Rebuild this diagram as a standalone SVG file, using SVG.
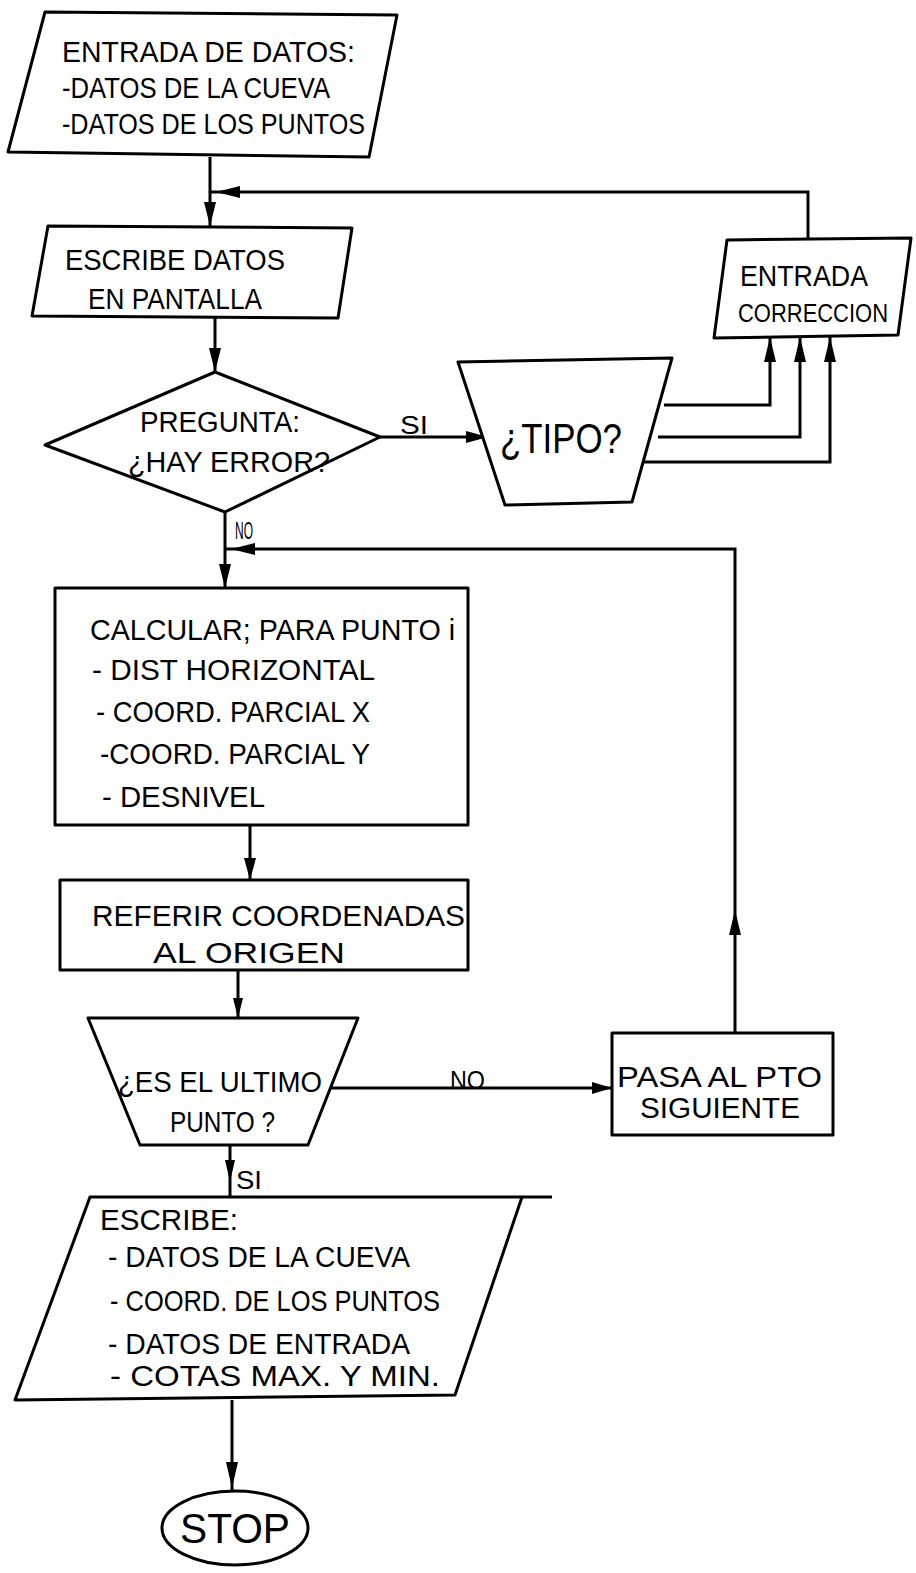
<svg xmlns="http://www.w3.org/2000/svg" width="916" height="1573" viewBox="0 0 916 1573">
<style>
.s{fill:#fff;stroke:#000;stroke-width:3;stroke-linejoin:round}
.c{fill:none;stroke:#000;stroke-width:3}
.t{font-family:"Liberation Sans",Arial,sans-serif;font-size:30px;fill:#000}
.ah{fill:#000}
</style>
<g id="connectors">
<path class="c" d="M210,157 V226"/>
<path class="ah" d="M204,202 L216,202 L210,226 Z"/>
<path class="c" d="M808,240 V192 H210"/>
<path class="ah" d="M240,186 L240,198 L216,192 Z"/>
<path class="c" d="M215,318 V372"/>
<path class="ah" d="M209,348 L221,348 L215,372 Z"/>
<path class="c" d="M380,437 H488"/>
<path class="ah" d="M466,431 L466,443 L488,437 Z"/>
<path class="c" d="M664,405 H770 V337"/>
<path class="c" d="M658,437 H800 V337"/>
<path class="c" d="M640,462 H830 V337"/>
<path class="ah" d="M764,362 L776,362 L770,337 Z"/>
<path class="ah" d="M794,362 L806,362 L800,337 Z"/>
<path class="ah" d="M824,362 L836,362 L830,337 Z"/>
<path class="c" d="M225,512 V588"/>
<path class="ah" d="M219,564 L231,564 L225,588 Z"/>
<path class="c" d="M735,1033 V549 H225"/>
<path class="ah" d="M255,543 L255,555 L231,549 Z"/>
<path class="ah" d="M729,935 L741,935 L735,910 Z"/>
<path class="c" d="M250,825 V880"/>
<path class="ah" d="M244,858 L256,858 L250,880 Z"/>
<path class="c" d="M238,970 V1018"/>
<path class="ah" d="M233,998 L243,998 L238,1018 Z"/>
<path class="c" d="M330,1088 H612"/>
<path class="ah" d="M592,1082 L592,1094 L612,1088 Z"/>
<path class="c" d="M230,1145 V1197"/>
<path class="ah" d="M225,1160 L235,1160 L230,1182 Z"/>
<path class="c" d="M232,1400 V1490"/>
<path class="ah" d="M226,1462 L238,1462 L232,1488 Z"/>
</g>
<g id="n1">
<polygon class="s" points="45,12 397,15 369,157 8,152"/>
<text class="t" x="62" y="62" textLength="293" lengthAdjust="spacingAndGlyphs">ENTRADA DE DATOS:</text>
<text class="t" x="62" y="98" textLength="268" lengthAdjust="spacingAndGlyphs">-DATOS DE LA CUEVA</text>
<text class="t" x="62" y="134" textLength="303" lengthAdjust="spacingAndGlyphs">-DATOS DE LOS PUNTOS</text>
</g>
<g id="n2">
<polygon class="s" points="48,226 352,228 338,318 32,316"/>
<text class="t" x="65" y="270" textLength="220" lengthAdjust="spacingAndGlyphs">ESCRIBE DATOS</text>
<text class="t" x="88" y="309" textLength="174" lengthAdjust="spacingAndGlyphs">EN PANTALLA</text>
</g>
<g id="n3">
<polygon class="s" points="215,372 380,437 225,512 45,445"/>
<text class="t" x="140" y="432" textLength="160" lengthAdjust="spacingAndGlyphs">PREGUNTA:</text>
<text class="t" x="128" y="472" textLength="202" lengthAdjust="spacingAndGlyphs">¿HAY ERROR?</text>
</g>
<text class="t" x="400" y="434" textLength="28" lengthAdjust="spacingAndGlyphs" style="font-size:26px">SI</text>
<g id="n4">
<polygon class="s" points="458,362 672,358 632,502 505,505"/>
<text class="t" x="500" y="453" style="font-size:42px" textLength="122" lengthAdjust="spacingAndGlyphs">¿TIPO?</text>
</g>
<g id="n5">
<polygon class="s" points="727,240 911,238 898,335 714,338"/>
<text class="t" x="740" y="286" textLength="128" lengthAdjust="spacingAndGlyphs">ENTRADA</text>
<text class="t" x="738" y="322" style="font-size:26px" textLength="150" lengthAdjust="spacingAndGlyphs">CORRECCION</text>
</g>
<text class="t" x="235" y="539" textLength="18" lengthAdjust="spacingAndGlyphs" style="font-size:24px">NO</text>
<g id="n6">
<rect class="s" x="55" y="588" width="413" height="237"/>
<text class="t" x="90" y="640" textLength="365" lengthAdjust="spacingAndGlyphs">CALCULAR; PARA PUNTO i</text>
<text class="t" x="92" y="680" textLength="283" lengthAdjust="spacingAndGlyphs">- DIST HORIZONTAL</text>
<text class="t" x="96" y="722" textLength="274" lengthAdjust="spacingAndGlyphs">- COORD. PARCIAL X</text>
<text class="t" x="100" y="764" textLength="270" lengthAdjust="spacingAndGlyphs">-COORD. PARCIAL Y</text>
<text class="t" x="102" y="807" textLength="163" lengthAdjust="spacingAndGlyphs">- DESNIVEL</text>
</g>
<g id="n7">
<rect class="s" x="60" y="880" width="408" height="90"/>
<text class="t" x="92" y="926" textLength="373" lengthAdjust="spacingAndGlyphs">REFERIR COORDENADAS</text>
<text class="t" x="153" y="963" textLength="192" lengthAdjust="spacingAndGlyphs">AL ORIGEN</text>
</g>
<g id="n8">
<polygon class="s" points="88,1018 358,1018 308,1145 140,1145"/>
<text class="t" x="118" y="1092" textLength="204" lengthAdjust="spacingAndGlyphs">¿ES EL ULTIMO</text>
<text class="t" x="170" y="1132" textLength="105" lengthAdjust="spacingAndGlyphs">PUNTO ?</text>
</g>
<text class="t" x="450" y="1089" textLength="35" lengthAdjust="spacingAndGlyphs" style="font-size:26px">NO</text>
<g id="n9">
<rect class="s" x="612" y="1033" width="221" height="102"/>
<text class="t" x="617" y="1087" textLength="205" lengthAdjust="spacingAndGlyphs">PASA AL PTO</text>
<text class="t" x="640" y="1118" textLength="160" lengthAdjust="spacingAndGlyphs">SIGUIENTE</text>
</g>
<text class="t" x="236" y="1189" textLength="26" lengthAdjust="spacingAndGlyphs" style="font-size:26px">SI</text>
<g id="n10">
<polygon class="s" points="90,1197 522,1197 455,1395 15,1400"/>
<path class="c" d="M522,1197 H552"/>
<text class="t" x="100" y="1230" textLength="138" lengthAdjust="spacingAndGlyphs">ESCRIBE:</text>
<text class="t" x="108" y="1267" textLength="302" lengthAdjust="spacingAndGlyphs">- DATOS DE LA CUEVA</text>
<text class="t" x="110" y="1311" textLength="330" lengthAdjust="spacingAndGlyphs">- COORD. DE LOS PUNTOS</text>
<text class="t" x="108" y="1354" textLength="302" lengthAdjust="spacingAndGlyphs">- DATOS DE ENTRADA</text>
<text class="t" x="110" y="1386" textLength="330" lengthAdjust="spacingAndGlyphs">- COTAS MAX. Y MIN.</text>
</g>
<g id="n11">
<ellipse class="s" cx="235" cy="1528" rx="73" ry="37"/>
<text class="t" x="235" y="1543" style="font-size:42px" text-anchor="middle" textLength="110" lengthAdjust="spacingAndGlyphs">STOP</text>
</g>
</svg>
